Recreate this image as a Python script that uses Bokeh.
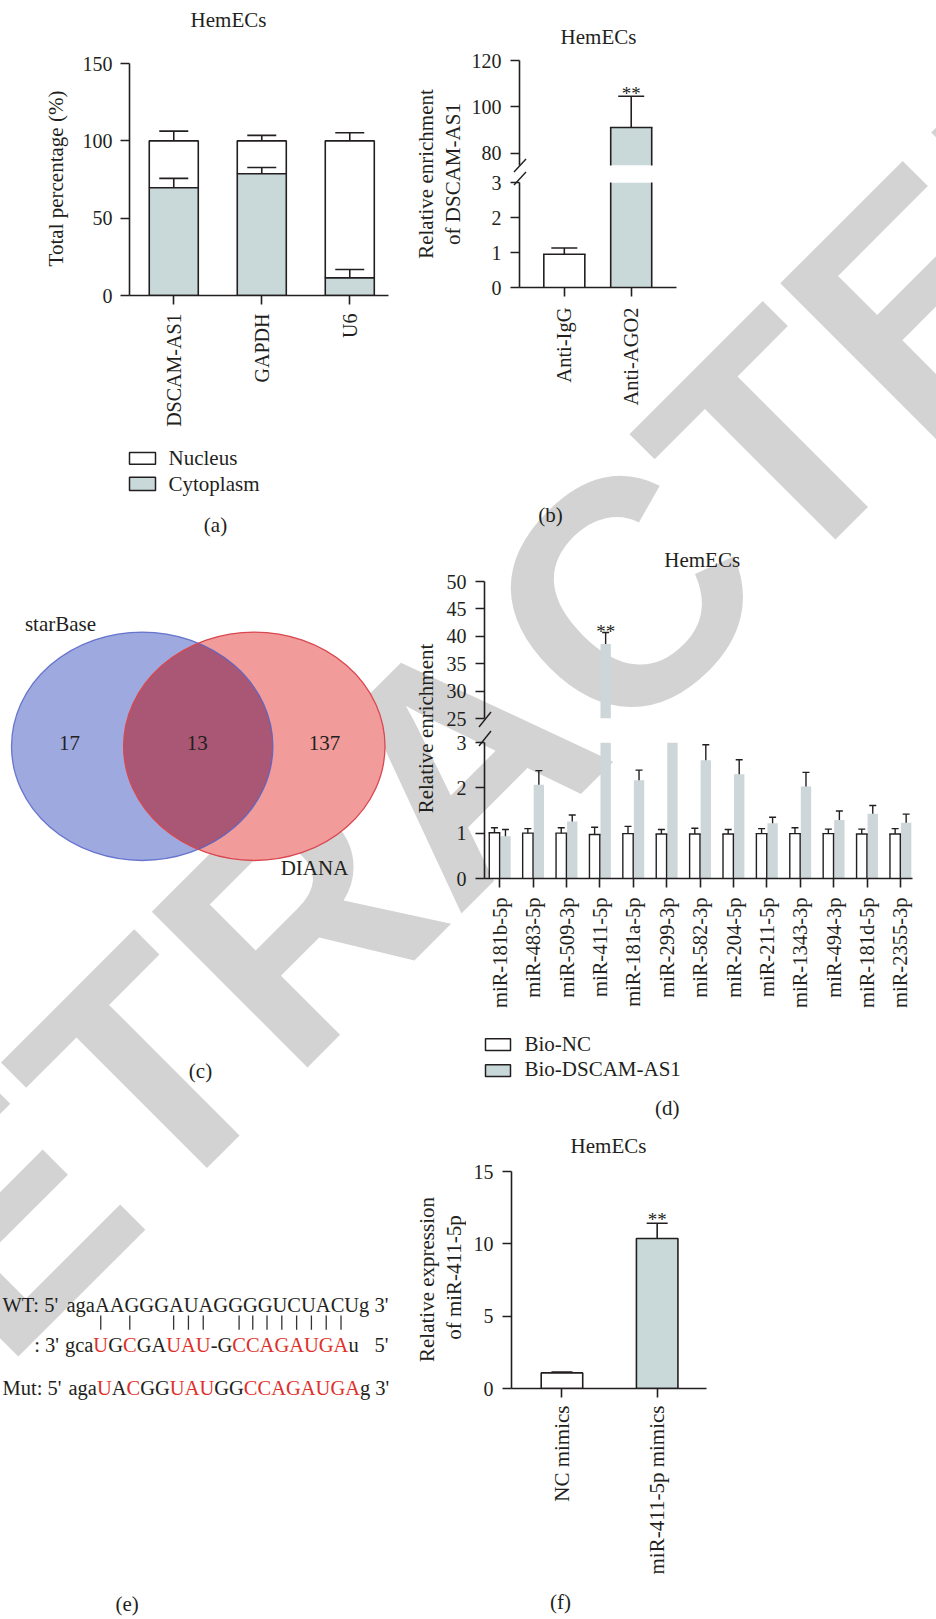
import math
from urllib.parse import quote
import numpy as np
from bokeh.plotting import figure
from bokeh.models import Range1d, FixedTicker, Label, Spacer, ColumnDataSource
from bokeh.layouts import row, column
from bokeh.embed import file_html
from bokeh.resources import INLINE
from bokeh.core.properties import value

FONT = "Liberation Serif"
INK = "#231f20"
FILL = "#c9d8d9"
DGREY = "#cdd6d9"
RED = "#e0302a"

# ---------------- data ----------------
a_title = "HemECs"
a_cats = ["DSCAM-AS1", "GAPDH", "U6"]
a_cyto = [69.7, 78.7, 11.4]
a_cyto_err = [6.0, 4.1, 5.4]
a_total = [100, 100, 100]
a_nuc_err = [6.3, 3.5, 5.2]
a_series = ["Nucleus", "Cytoplasm"]
a_yticks = [0, 50, 100, 150]

b_title = "HemECs"
b_cats = ["Anti-IgG", "Anti-AGO2"]
b_vals = [0.95, 91.1]
b_err = [0.18, 13.5]
b_sig = ["", "**"]
b_yticks_low = [0, 1, 2, 3]
b_yticks_high = [80, 100, 120]

c_sets = ["starBase", "DIANA"]
c_counts = [17, 13, 137]

d_title = "HemECs"
d_cats = ["miR-181b-5p", "miR-483-5p", "miR-509-3p", "miR-411-5p", "miR-181a-5p",
          "miR-299-3p", "miR-582-3p", "miR-204-5p", "miR-211-5p", "miR-1343-3p",
          "miR-494-3p", "miR-181d-5p", "miR-2355-3p"]
d_nc = [1.01, 1.0, 1.0, 0.97, 0.99, 0.98, 0.98, 0.98, 0.99, 0.99, 0.99, 0.98, 0.98]
d_nc_err = [0.11, 0.1, 0.12, 0.16, 0.16, 0.1, 0.13, 0.1, 0.11, 0.13, 0.1, 0.11, 0.12]
d_ds = [0.93, 2.07, 1.26, 38.6, 2.17, 4.0, 2.61, 2.30, 1.22, 2.03, 1.29, 1.43, 1.23]
d_ds_err = [0.15, 0.31, 0.14, 2.1, 0.22, 0.5, 0.34, 0.32, 0.13, 0.31, 0.2, 0.18, 0.19]
d_sig = ["", "", "", "**", "", "", "", "", "", "", "", "", ""]
d_series = ["Bio-NC", "Bio-DSCAM-AS1"]
d_yticks_low = [0, 1, 2, 3]
d_yticks_high = [25, 30, 35, 40, 45, 50]

e_wt_seq = "agaAAGGGAUAGGGGUCUACUg"
e_mir_seq = "gcaUGCGAUAU-GCCAGAUGAu"
e_mut_seq = "agaUACGGUAUGGCCAGAUGAg"
e_sites = [3, 5, 8, 9, 10, 13, 14, 15, 16, 17, 18, 19, 20]

f_title = "HemECs"
f_cats = ["NC mimics", "miR-411-5p mimics"]
f_vals = [1.08, 10.37]
f_err = [0.06, 1.05]
f_sig = ["", "**"]
f_yticks = [0, 5, 10, 15]

watermark = "RETRACTED"


# ---------------- helpers ----------------
class Pane:
    def __init__(self, ox, oy, w, h, xr=None, yr=None, bl=0, br=0, bt=0, bb=0,
                 xaxis=False, yaxis=False, x_range=None):
        if xr is None:
            xr = (ox, ox + w)
        if yr is None:
            yr = (-(oy + h), -oy)
        self.fl, self.fr = ox + bl, ox + w - br
        self.ft, self.fb = oy + bt, oy + h - bb
        self.xr, self.yr = xr, yr
        self.p = figure(width=w, height=h,
                        x_range=x_range if x_range is not None else Range1d(*xr),
                        y_range=Range1d(*yr),
                        min_border_left=bl, min_border_right=br,
                        min_border_top=bt, min_border_bottom=bb,
                        x_axis_location="below" if xaxis else None,
                        y_axis_location="left" if yaxis else None,
                        toolbar_location=None, output_backend="svg",
                        title_location=None)
        p = self.p
        p.outline_line_color = None
        p.background_fill_color = None
        p.border_fill_color = None
        p.grid.grid_line_color = None
        self.box = column(p)

    def to_data(self, px, py):
        x = self.xr[0] + (px - self.fl) / (self.fr - self.fl) * (self.xr[1] - self.xr[0])
        y = self.yr[0] + (self.fb - py) / (self.fb - self.ft) * (self.yr[1] - self.yr[0])
        return x, y

    def ypx(self):
        return (self.fb - self.ft) / (self.yr[1] - self.yr[0])

    def label(self, px, py, text, size="21px", angle=0.0, align="center",
              baseline="middle", color=INK):
        x, y = self.to_data(px, py)
        self.p.add_layout(Label(x=x, y=y, text=text, text_font=FONT, text_font_size=size,
                                text_align=align, text_baseline=baseline, angle=angle,
                                text_color=color))

    def key(self, x0, y0, x1, y1, fill):
        a, b = self.to_data(x0, y0)
        c, d = self.to_data(x1, y1)
        self.p.quad(left=[a], right=[c], top=[b], bottom=[d], fill_color=fill,
                    line_color=INK, line_width=1.5)


def axis_common(ax, size="20px"):
    ax.axis_line_color = INK
    ax.axis_line_width = 1.6
    ax.major_tick_line_color = INK
    ax.major_tick_line_width = 1.6
    ax.major_tick_in = 0
    ax.major_tick_out = 9
    ax.minor_tick_line_color = None
    ax.major_label_text_font = FONT
    ax.major_label_text_font_size = size
    ax.major_label_text_color = INK


def style_y(pane, ticks, standoff=8):
    ax = pane.p.yaxis[0]
    ax.ticker = FixedTicker(ticks=ticks)
    axis_common(ax)
    ax.major_label_standoff = standoff


def style_x(pane, labels, standoff, size="20.5px"):
    ax = pane.p.xaxis[0]
    ticks = list(range(len(labels)))
    ax.ticker = FixedTicker(ticks=ticks)
    ax.major_label_overrides = {t: l for t, l in zip(ticks, labels)}
    ax.major_label_orientation = math.pi / 2
    axis_common(ax, size)
    ax.major_label_standoff = standoff


def draw_bars(pane, xs, vals, errs, width, fills, outline, cap, lw=1.6):
    """Bars clipped to the pane's y range (for broken axes)."""
    p = pane.p
    y0, y1 = pane.yr
    keep = [i for i in range(len(xs)) if vals[i] > y0]
    if not keep:
        return
    kx = [float(xs[i]) for i in keep]
    kv = [float(vals[i]) for i in keep]
    kf = [fills[i] for i in keep]
    src = ColumnDataSource(dict(x=kx, top=kv, fill=kf))
    p.vbar(x="x", top="top", bottom=0, width=width, source=src, fill_color="fill",
           line_color=None)
    hw = width / 2.0
    if outline:
        sx = [x - hw for x in kx] + [x + hw for x in kx]
        st = kv + kv
        p.segment(x0=sx, y0=[0.0] * len(sx), x1=sx, y1=st, line_color=INK, line_width=lw)
        tops = [(x, v) for x, v in zip(kx, kv) if v <= y1]
        if tops:
            p.segment(x0=[x - hw for x, v in tops], y0=[v for x, v in tops],
                      x1=[x + hw for x, v in tops], y1=[v for x, v in tops],
                      line_color=INK, line_width=lw, line_cap="square")
    ev = [(float(xs[i]), float(vals[i]), float(errs[i])) for i in keep if vals[i] < y1]
    if ev:
        p.segment(x0=[x for x, v, e in ev], y0=[v for x, v, e in ev],
                  x1=[x for x, v, e in ev], y1=[v + e for x, v, e in ev],
                  line_color=INK, line_width=lw)
        cp = [(x, v + e) for x, v, e in ev if v + e <= y1]
        if cp:
            p.scatter(x=[c[0] for c in cp], y=[c[1] for c in cp], marker="dash", size=cap,
                      line_color=INK, line_width=lw)


def errbars(p, x, base, err, cap, lw=1.6):
    tip = [b + e for b, e in zip(base, err)]
    p.segment(x0=list(x), y0=list(base), x1=list(x), y1=tip, line_color=INK, line_width=lw)
    p.scatter(x=list(x), y=tip, marker="dash", size=cap, line_color=INK, line_width=lw)


def sig_label(pane, x, tip, text, gap_px):
    pane.p.add_layout(Label(x=x, y=tip + gap_px / pane.ypx(), text=text, text_font=FONT,
                            text_font_size="19px", text_align="center",
                            text_baseline="alphabetic", text_color=INK))


# ================= Row 1 : (a) and (b) =================
A_t = Pane(0, 0, 400, 45)
A_t.label(228, 19, a_title)
A_l = Pane(0, 45, 70, 395)
A_l.label(55, 178, "Total percentage (%)", angle=math.pi / 2)
A = Pane(70, 45, 330, 395, xr=(-0.503, 2.44), yr=(0, 150), bl=59, br=12, bt=18, bb=145,
         xaxis=True, yaxis=True)
ax_ = list(range(len(a_cats)))
A.p.vbar(x=ax_, top=a_total, bottom=a_cyto, width=0.557, fill_color="white",
         line_color=INK, line_width=1.6)
A.p.vbar(x=ax_, top=a_cyto, bottom=0, width=0.557, fill_color=FILL,
         line_color=INK, line_width=1.6)
errbars(A.p, ax_, a_cyto, a_cyto_err, 29)
errbars(A.p, ax_, a_total, a_nuc_err, 29)
style_y(A, a_yticks, 8)
style_x(A, a_cats, 9, "20px")
A_b = Pane(0, 440, 400, 100)
A_b.key(129, 452, 155, 463.7, "white")
A_b.key(129, 476.7, 155, 490, FILL)
A_b.label(168, 457.5, a_series[0], align="left")
A_b.label(168, 483.5, a_series[1], align="left")
A_b.label(215, 524, "(a)")
colA = column(A_t.box, row(A_l.box, A.box), A_b.box)

B_t = Pane(400, 0, 300, 48)
B_t.label(598, 36.7, b_title)
B_l = Pane(400, 48, 66, 372)
B_l.label(425, 173.5, "Relative enrichment", angle=math.pi / 2)
B_l.label(452, 173.5, "of DSCAM-AS1", angle=math.pi / 2)
bxr = Range1d(-0.67, 1.677)
BT = Pane(466, 48, 234, 122, xr=(-0.67, 1.677), yr=(74.7, 120), bl=53, br=24, bt=12, bb=5,
          xaxis=False, yaxis=True, x_range=bxr)
BB = Pane(466, 170, 234, 250, xr=(-0.67, 1.677), yr=(0, 3), bl=53, br=24, bt=12, bb=133,
          xaxis=True, yaxis=True, x_range=bxr)
bx = list(range(len(b_cats)))
for pn in (BT, BB):
    draw_bars(pn, bx, b_vals, b_err, 0.613, ["white", FILL], True, 26)
style_y(BT, b_yticks_high, 9)
style_y(BB, b_yticks_low, 9)
style_x(BB, b_cats, 11)
for i, s in enumerate(b_sig):
    if s:
        sig_label(BT, bx[i], b_vals[i] + b_err[i], s, 3.0)
B_b = Pane(400, 420, 300, 120)
B_b.label(550, 514, "(b)")
colB = column(B_t.box, row(B_l.box, column(BT.box, BB.box)), B_b.box)

row1 = row(colA, colB, Spacer(width=236, height=540))

# ================= Row 2 : (c) and (d) =================
C = Pane(0, 540, 400, 580)
cy = -745.8
cb, cr, rx, ry = 141.7, 253.8, 130.7, 114.2
C.p.ellipse(x=[cb], y=[cy], width=[2 * rx], height=[2 * ry], fill_color="#9ea9e0",
            line_color=None)
C.p.ellipse(x=[cr], y=[cy], width=[2 * rx], height=[2 * ry], fill_color="#f29b9b",
            line_color=None)
th0 = math.acos(((cb + cr) / 2 - cb) / rx)
t1 = np.linspace(-th0, th0, 80)
t2 = np.linspace(math.pi - th0, math.pi + th0, 80)
lx = np.concatenate([cb + rx * np.cos(t1), cr + rx * np.cos(t2)])
ly = np.concatenate([cy + ry * np.sin(t1), cy + ry * np.sin(t2)])
C.p.patch(x=lx, y=ly, fill_color="#a95774", line_color=None)
C.p.ellipse(x=[cb], y=[cy], width=[2 * rx], height=[2 * ry], fill_color=None,
            line_color="#5765c8", line_width=1.3, line_alpha=0.85)
C.p.ellipse(x=[cr], y=[cy], width=[2 * rx], height=[2 * ry], fill_color=None,
            line_color="#d9474f", line_width=1.3)
C.label(69, 742.7, str(c_counts[0]))
C.label(196.7, 742.7, str(c_counts[1]))
C.label(324, 742.7, str(c_counts[2]))
C.label(60, 623.3, c_sets[0])
C.label(314, 867.3, c_sets[1])
C.label(200, 1070, "(c)")

D_t = Pane(400, 540, 536, 30)
D_t.label(701.7, 559, d_title)
D_l = Pane(400, 570, 40, 455)
D_l.label(425, 728, "Relative enrichment", angle=math.pi / 2)
dxr = Range1d(-0.458, 12.36)
DT = Pane(440, 570, 496, 160, xr=(-0.458, 12.36), yr=(25, 50), bl=44, br=24, bt=11, bb=12,
          xaxis=False, yaxis=True, x_range=dxr)
DB = Pane(440, 730, 496, 295, xr=(-0.458, 12.36), yr=(0, 3), bl=44, br=24, bt=12, bb=147,
          xaxis=True, yaxis=True, x_range=dxr)
dx = np.arange(len(d_cats))
dx_nc = list(dx - 0.16)
dx_ds = list(dx + 0.17)
for pn in (DT, DB):
    draw_bars(pn, dx_ds, d_ds, d_ds_err, 0.31, [DGREY] * len(d_ds), False, 7, lw=1.4)
    draw_bars(pn, dx_nc, d_nc, d_nc_err, 0.31, ["white"] * len(d_nc), True, 7, lw=1.4)
style_y(DT, d_yticks_high, 9)
style_y(DB, d_yticks_low, 9)
style_x(DB, d_cats, 10)
for i, s in enumerate(d_sig):
    if s:
        sig_label(DT, dx_ds[i], d_ds[i] + d_ds_err[i], s, 0.5)
D_b = Pane(400, 1025, 536, 95)
D_b.key(485, 1038.3, 510, 1050, "white")
D_b.key(485, 1064.3, 510, 1076, FILL)
D_b.label(524, 1043, d_series[0], align="left")
D_b.label(524, 1068.5, d_series[1], align="left")
D_b.label(666.7, 1107.3, "(d)")
colD = column(D_t.box, row(D_l.box, column(DT.box, DB.box)), D_b.box)

row2 = row(C.box, colD)

# ================= Row 3 : (e) and (f) =================
E = Pane(0, 1120, 400, 499)
CW = {' ': 250, ':': 278, "'": 180, '-': 333, '3': 500, '5': 500, 'a': 444, 'c': 444,
      'g': 500, 'u': 500, 'A': 722, 'C': 667, 'G': 722, 'U': 722}
FS = 20.5
SP = CW[' '] * FS / 1000.0


def char_pos(start, s):
    xs, x = [], start
    for ch in s:
        w = CW[ch] * FS / 1000.0
        xs.append(x + w / 2)
        x += w
    return xs, x


def seq_line(start, mid_y, s, colored):
    xs, end = char_pos(start, s)
    cols = [RED if (colored and i in e_sites) else INK for i in range(len(s))]
    E.p.text(x=xs, y=[-mid_y] * len(s), text=list(s), text_color=cols,
             text_font=value(FONT), text_font_size=value("20.5px"),
             text_align="center", text_baseline="middle")
    return xs, end


def plain(px, mid_y, t, align):
    E.p.text(x=[px], y=[-mid_y], text=[t], text_color=INK, text_font=value(FONT),
             text_font_size=value("20.5px"), text_align=align, text_baseline="middle")


L1, L2, L3 = 1304.0, 1344.8, 1387.2
_, end1 = seq_line(66, L1, e_wt_seq, False)
plain(2, L1, "WT: 5'", "left")
plain(end1 + SP, L1, "3'", "left")
xs2, end2 = seq_line(64.4, L2, e_mir_seq, True)
plain(58.4, L2, ": 3'", "right")
plain(388, L2, "5'", "right")
_, end3 = seq_line(68, L3, e_mut_seq, True)
plain(2, L3, "Mut: 5'", "left")
plain(end3 + SP, L3, "3'", "left")
px_ = [xs2[i] for i in e_sites]
E.p.segment(x0=px_, y0=[-1315] * len(px_), x1=px_, y1=[-1329.3] * len(px_),
            line_color="#333333", line_width=1.3)
E.label(126.7, 1603, "(e)")

F_t = Pane(400, 1120, 320, 40)
F_t.label(608, 1145, f_title)
F_l = Pane(400, 1160, 66, 428)
F_l.label(426, 1279, "Relative expression", angle=math.pi / 2)
F_l.label(453.3, 1277, "of miR-411-5p", angle=math.pi / 2)
F = Pane(466, 1160, 254, 428, xr=(-0.53, 1.518), yr=(0, 15), bl=45, br=14, bt=11, bb=200,
         xaxis=True, yaxis=True)
fx = list(range(len(f_cats)))
F.p.vbar(x=fx, top=f_vals, bottom=0, width=0.436, fill_color=["white", FILL],
         line_color=INK, line_width=1.6)
errbars(F.p, fx, f_vals, f_err, 21)
style_y(F, f_yticks, 9)
style_x(F, f_cats, 8, "21px")
for i, s in enumerate(f_sig):
    if s:
        sig_label(F, fx[i], f_vals[i] + f_err[i], s, 4.0)
F_b = Pane(400, 1588, 320, 31)
F_b.label(560, 1601.7, "(f)")
colF = column(F_t.box, row(F_l.box, F.box), F_b.box)

row3 = row(E.box, colF, Spacer(width=216, height=499))

layout = column(row1, row2, row3)

# watermark and axis-break marks painted behind the (transparent) figures
wm_cx, wm_cy = 459, 759
svg = ("<svg xmlns='http://www.w3.org/2000/svg' width='936' height='1619'>"
       f"<text x='{wm_cx}' y='{wm_cy}' transform='rotate(-45 {wm_cx} {wm_cy})' "
       "font-family='Liberation Sans' font-weight='bold' font-size='320' fill='#d3d3d3' "
       f"text-anchor='middle' dominant-baseline='central'>{watermark}</text>"
       "<g stroke='#231f20' stroke-width='1.4'>"
       "<line x1='514' y1='172' x2='526' y2='159'/>"
       "<line x1='514' y1='185' x2='526' y2='172'/>"
       "<line x1='479' y1='727' x2='491' y2='712'/>"
       "<line x1='479' y1='746' x2='491' y2='731'/>"
       "</g></svg>")
layout.styles = {"background-image": f"url(\"data:image/svg+xml,{quote(svg)}\")",
                 "background-repeat": "no-repeat",
                 "background-color": "white"}

open("out.html", "w").write(file_html(layout, INLINE))
